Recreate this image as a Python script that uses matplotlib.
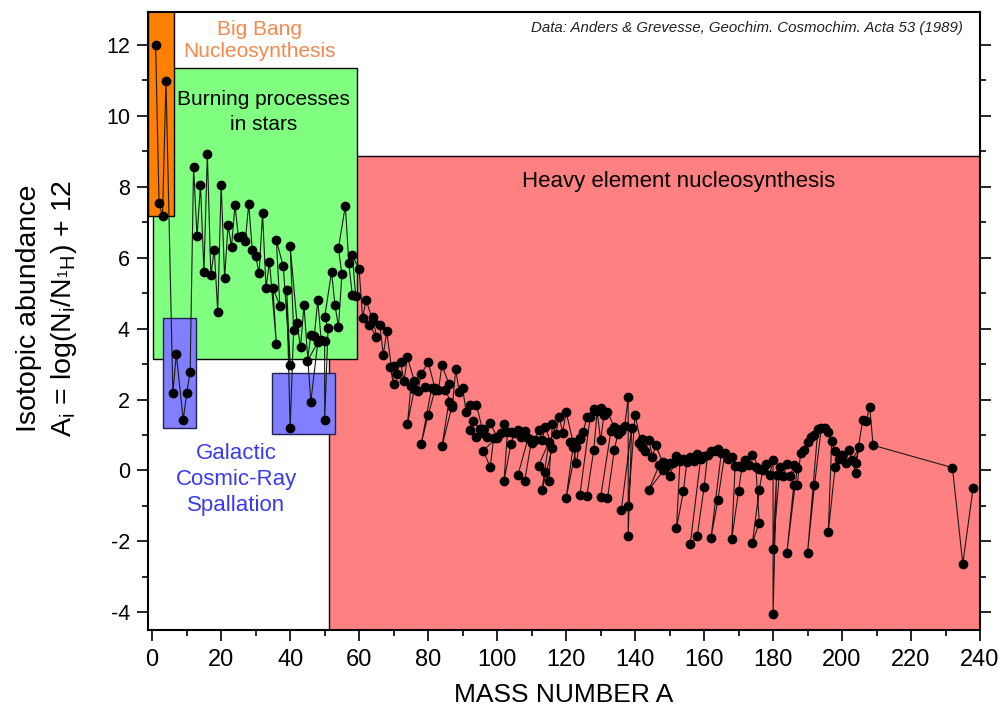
import matplotlib
matplotlib.use("Agg")
import matplotlib.pyplot as plt
from matplotlib.patches import Rectangle
from matplotlib.ticker import MultipleLocator

plt.rcParams['font.family'] = ['Liberation Sans', 'DejaVu Sans']
plt.rcParams['mathtext.fontset'] = 'custom'
plt.rcParams['mathtext.rm'] = 'Liberation Sans Narrow'
plt.rcParams['mathtext.it'] = 'Liberation Sans Narrow:italic'
plt.rcParams['axes.unicode_minus'] = False

# stable isotopes, in order of element (Z) then mass number
mass_number = [
    1, 2,                                          # H
    3, 4,                                          # He
    6, 7,                                          # Li
    9,                                             # Be
    10, 11,                                        # B
    12, 13,                                        # C
    14, 15,                                        # N
    16, 17, 18,                                    # O
    19,                                            # F
    20, 21, 22,                                    # Ne
    23,                                            # Na
    24, 25, 26,                                    # Mg
    27,                                            # Al
    28, 29, 30,                                    # Si
    31,                                            # P
    32, 33, 34, 36,                                # S
    35, 37,                                        # Cl
    36, 38, 40,                                    # Ar
    39, 40, 41,                                    # K
    40, 42, 43, 44, 46, 48,                        # Ca
    45,                                            # Sc
    46, 47, 48, 49, 50,                            # Ti
    50, 51,                                        # V
    50, 52, 53, 54,                                # Cr
    55,                                            # Mn
    54, 56, 57, 58,                                # Fe
    59,                                            # Co
    58, 60, 61, 62, 64,                            # Ni
    63, 65,                                        # Cu
    64, 66, 67, 68, 70,                            # Zn
    69, 71,                                        # Ga
    70, 72, 73, 74, 76,                            # Ge
    75,                                            # As
    74, 76, 77, 78, 80, 82,                        # Se
    79, 81,                                        # Br
    78, 80, 82, 83, 84, 86,                        # Kr
    85, 87,                                        # Rb
    84, 86, 87, 88,                                # Sr
    89,                                            # Y
    90, 91, 92, 94, 96,                            # Zr
    93,                                            # Nb
    92, 94, 95, 96, 97, 98, 100,                   # Mo
    96, 98, 99, 100, 101, 102, 104,                # Ru
    103,                                           # Rh
    102, 104, 105, 106, 108, 110,                  # Pd
    107, 109,                                      # Ag
    106, 108, 110, 111, 112, 113, 114, 116,        # Cd
    113, 115,                                      # In
    112, 114, 115, 116, 117, 118, 119, 120, 122, 124,  # Sn
    121, 123,                                      # Sb
    120, 122, 123, 124, 125, 126, 128, 130,        # Te
    127,                                           # I
    124, 126, 128, 129, 130, 131, 132, 134, 136,   # Xe
    133,                                           # Cs
    130, 132, 134, 135, 136, 137, 138,             # Ba
    138, 139,                                      # La
    136, 138, 140, 142,                            # Ce
    141,                                           # Pr
    142, 143, 144, 145, 146, 148, 150,             # Nd
    144, 147, 148, 149, 150, 152, 154,             # Sm
    151, 153,                                      # Eu
    152, 154, 155, 156, 157, 158, 160,             # Gd
    159,                                           # Tb
    156, 158, 160, 161, 162, 163, 164,             # Dy
    165,                                           # Ho
    162, 164, 166, 167, 168, 170,                  # Er
    169,                                           # Tm
    168, 170, 171, 172, 173, 174, 176,             # Yb
    175, 176,                                      # Lu
    174, 176, 177, 178, 179, 180,                  # Hf
    180, 181,                                      # Ta
    180, 182, 183, 184, 186,                       # W
    185, 187,                                      # Re
    184, 186, 187, 188, 189, 190, 192,             # Os
    191, 193,                                      # Ir
    190, 192, 194, 195, 196, 198,                  # Pt
    197,                                           # Au
    196, 198, 199, 200, 201, 202, 204,             # Hg
    203, 205,                                      # Tl
    204, 206, 207, 208,                            # Pb
    209,                                           # Bi
    232,                                           # Th
    235, 238,                                      # U
]

abundance = [
    12.00, 7.53,
    7.17, 10.99,
    2.19, 3.28,
    1.42,
    2.18, 2.78,
    8.55, 6.60,
    8.05, 5.61,
    8.93, 5.51, 6.23,
    4.48,
    8.06, 5.44, 6.92,
    6.31,
    7.48, 6.58, 6.62,
    6.48,
    7.52, 6.22, 6.04,
    5.57,
    7.25, 5.15, 5.89, 3.57,
    5.15, 4.65,
    6.49, 5.76, 2.98,
    5.10, 1.20, 3.96,
    6.33, 4.15, 3.47, 4.66, 1.94, 3.61,
    3.09,
    3.83, 3.79, 4.80, 3.67, 3.66,
    1.42, 4.02,
    4.32, 5.60, 4.66, 4.05,
    5.53,
    6.27, 7.47, 5.85, 4.96,
    4.91,
    6.08, 5.67, 4.30, 4.81, 4.21,
    4.11, 3.76,
    4.34, 4.10, 3.26, 3.92, 2.43,
    2.91, 2.73,
    2.94, 3.07, 2.52, 3.19, 2.52,
    2.37,
    1.30, 2.30, 2.23, 2.72, 3.05, 2.32,
    2.34, 2.32,
    0.75, 1.56, 2.27, 2.27, 2.97, 2.45,
    2.26, 1.84,
    0.68, 1.92, 1.78, 2.85,
    2.22,
    2.32, 1.66, 1.84, 1.85, 1.06,
    1.40,
    1.13, 0.93, 1.16, 1.18, 0.94, 1.34, 0.94,
    0.56, 0.09, 0.92, 0.92, 1.05, 1.32, 1.09,
    1.09,
    -0.29, 0.75, 1.05, 1.14, 1.12, 0.77,
    0.95, 0.92,
    -0.14, -0.29, 0.86, 0.87, 1.14, 0.85, 1.22, 0.63,
    -0.55, 0.80,
    0.13, -0.05, -0.30, 1.30, 1.03, 1.52, 1.07, 1.65, 0.81, 0.90,
    0.80, 0.67,
    -0.78, 0.65, 0.20, 0.92, 1.09, 1.52, 1.74, 1.77,
    1.51,
    -0.69, -0.73, 0.57, 1.67, 0.85, 1.57, 1.65, 1.22, 1.18,
    1.12,
    -0.76, -0.79, 0.59, 1.03, 1.11, 1.26, 2.07,
    -1.85, 1.20,
    -1.11, -0.99, 1.56, 0.65,
    0.78,
    0.90, 0.56, 0.85, 0.39, 0.71, 0.23, 0.22,
    -0.54, 0.15, 0.02, 0.11, -0.16, 0.40, 0.33,
    0.22, 0.26,
    -1.63, -0.59, 0.24, 0.38, 0.26, 0.46, 0.41,
    0.33,
    -2.07, -1.85, -0.48, 0.43, 0.56, 0.55, 0.60,
    0.50,
    -1.90, -0.84, 0.48, 0.31, 0.38, 0.12,
    0.13,
    -1.94, -0.57, 0.11, 0.29, 0.16, 0.45, 0.05,
    0.11, -1.47,
    -2.05, -0.54, 0.01, 0.18, -0.13, 0.29,
    -4.05, -0.13,
    -2.21, 0.10, -0.16, 0.17, 0.14,
    -0.16, 0.07,
    -2.32, -0.42, -0.42, 0.50, 0.59, 0.80, 0.99,
    0.94, 1.17,
    -2.32, -0.42, 1.20, 1.21, 1.08, 0.54,
    0.83,
    -1.73, 0.09, 0.32, 0.45, 0.21, 0.57, -0.07,
    0.29, 0.67,
    0.20, 1.43, 1.39, 1.80,
    0.71,
    0.08,
    -2.63, -0.49,
]

# shaded process regions: (x0, x1, y0, y1, colour)
heavy_region = (51.4, 241, -5, 8.86, '#ff8080')
burning_region = (0.3, 59.5, 3.13, 11.34, '#80ff80')
bigbang_region = (-1.2, 6.2, 7.17, 14, '#ff7f00')
spallation_regions = [(3.2, 12.8, 1.19, 4.29), (34.8, 53.1, 1.04, 2.74)]

fig = plt.figure(figsize=(10.03, 7.16), dpi=100)
ax = fig.add_axes([0.1476, 0.1201, 0.8295, 0.8631])

for x0, x1, y0, y1, col in [heavy_region, burning_region, bigbang_region]:
    ax.add_patch(Rectangle((x0, y0), x1 - x0, y1 - y0, facecolor=col,
                           edgecolor='black', linewidth=1, zorder=1))
for x0, x1, y0, y1 in spallation_regions:
    ax.add_patch(Rectangle((x0, y0), x1 - x0, y1 - y0, facecolor='#8080ff',
                           edgecolor='#222255', linewidth=1, zorder=2))

ax.plot(mass_number, abundance, '-', color='#1a1a1a', linewidth=0.8,
        marker='o', markersize=6, markerfacecolor='black',
        markeredgecolor='black', zorder=3)

ax.text(31.0, 12.12, 'Big Bang\nNucleosynthesis', color='#f5884c', fontsize=15,
        ha='center', va='center', linespacing=1.2, zorder=4)
ax.text(32.2, 10.1, 'Burning processes\nin stars', color='black', fontsize=15,
        ha='center', va='center', linespacing=1.4, zorder=4)
ax.text(152.6, 8.15, 'Heavy element nucleosynthesis', color='black', fontsize=16,
        ha='center', va='center', zorder=4)
ax.text(24.4, -0.25, 'Galactic\nCosmic-Ray\nSpallation', color='#3a3af0',
        fontsize=16, ha='center', va='center', linespacing=1.3, zorder=4)
ax.text(235, 12.47, 'Data: Anders & Grevesse, Geochim. Cosmochim. Acta 53 (1989)',
        fontsize=10.8, style='italic', color='#222222', ha='right', va='center',
        zorder=4)

ax.set_xlim(-1.2, 240)
ax.set_ylim(-4.5, 12.93)
ax.xaxis.set_major_locator(MultipleLocator(20))
ax.xaxis.set_minor_locator(MultipleLocator(10))
ax.yaxis.set_major_locator(MultipleLocator(2))
ax.yaxis.set_minor_locator(MultipleLocator(1))
ax.tick_params(which='both', direction='out', width=1.2)
ax.tick_params(which='major', length=8)
ax.tick_params(which='minor', length=4)
ax.tick_params(axis='x', labelsize=17, pad=6)
ax.tick_params(axis='y', labelsize=15.5, pad=5)
ax.tick_params(axis='y', which='both', right=True)
for sp in ax.spines.values():
    sp.set_linewidth(1.5)

ax.set_xlabel('MASS NUMBER A', fontsize=19, labelpad=8)
ax.set_ylabel('Isotopic abundance\n'
              r'A$_\mathregular{i}$ = log(N$_\mathregular{i}$/N$_\mathregular{{}^1H}$) + 12',
              fontsize=20.5, linespacing=1.3,
              family=['Liberation Sans Narrow', 'Liberation Sans', 'DejaVu Sans'])
ax.yaxis.set_label_coords(-0.083, 0.52)

fig.savefig('out.png', dpi=100)
